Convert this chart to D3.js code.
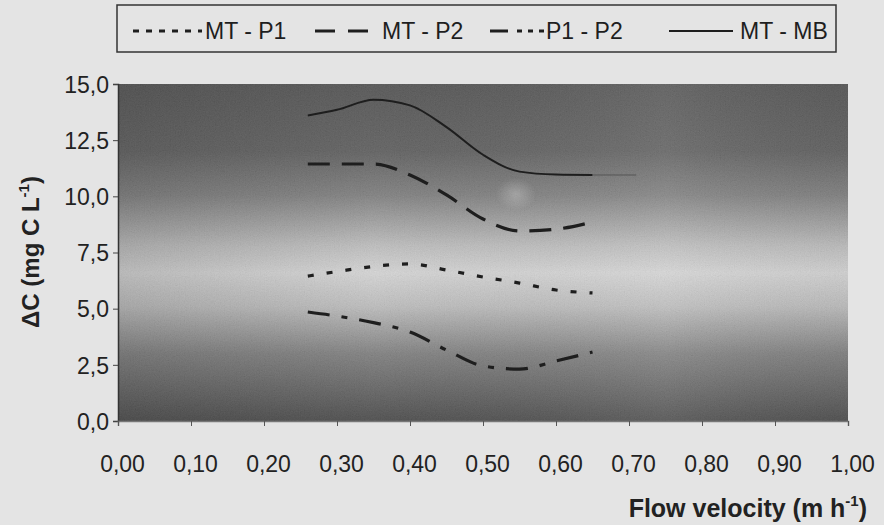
<!DOCTYPE html>
<html>
<head>
<meta charset="utf-8">
<script src="https://cdn.jsdelivr.net/npm/d3@7"></script>
<style>
  body { margin: 0; background: #e4e4e4; }
  svg { display: block; }
  svg text { font-family: "Liberation Sans", Arial, sans-serif; }
</style>
</head>
<body>
<div id="chart"></div>
<script>
// flow velocity (m/h) at which the curves were read
const velocity = [0.26, 0.30, 0.35, 0.40, 0.45, 0.50, 0.55, 0.60, 0.65];
const mtP1 = [6.45, 6.65, 6.88, 6.99, 6.72, 6.41, 6.14, 5.83, 5.70];
const mtP2 = [11.44, 11.44, 11.44, 10.95, 10.06, 8.99, 8.46, 8.54, 8.86];
const p1P2 = [4.85, 4.67, 4.38, 3.96, 3.16, 2.45, 2.31, 2.67, 3.07];
const mtMB = [13.6, 13.85, 14.3, 14.05, 13.08, 11.85, 11.1, 10.97, 10.95];
const mtMBTailX = [0.71];
const mtMBTail = [10.95];

const xTicks = [0, 0.1, 0.2, 0.3, 0.4, 0.5, 0.6, 0.7, 0.8, 0.9, 1.0];
const yTicks = [0, 2.5, 5, 7.5, 10, 12.5, 15];
const seriesNames = ["MT - P1", "MT - P2", "P1 - P2", "MT - MB"];

const W = 884, H = 525;
const margin = {top: 84, right: 36, bottom: 104, left: 118};
const width = W - margin.left - margin.right;
const height = H - margin.top - margin.bottom;
const font = "Liberation Sans, Arial, sans-serif";

const svg = d3.select("#chart").append("svg")
    .attr("width", W)
    .attr("height", H);

const defs = svg.append("defs");
// scanned grey shading of the plot area
const vg = defs.append("linearGradient").attr("id", "vgrad")
    .attr("x1", 0).attr("y1", 0).attr("x2", 0).attr("y2", 1);
[[0, "#4c4c4c"], [0.2, "#585858"], [0.33, "#7a7a7a"], [0.48, "#bdbdbd"],
 [0.56, "#d6d6d6"], [0.66, "#bcbcbc"], [0.8, "#7a7a7a"], [1, "#424242"]]
  .forEach(function(s) { vg.append("stop").attr("offset", s[0]).attr("stop-color", s[1]); });
const hg = defs.append("linearGradient").attr("id", "hgrad")
    .attr("x1", 0).attr("y1", 0).attr("x2", 1).attr("y2", 0);
[[0, "rgba(0,0,0,0.14)"], [0.35, "rgba(0,0,0,0)"], [0.75, "rgba(255,255,255,0.07)"], [1, "rgba(0,0,0,0.03)"]]
  .forEach(function(s) { hg.append("stop").attr("offset", s[0]).attr("stop-color", s[1]); });
const rg = defs.append("radialGradient").attr("id", "spot");
rg.append("stop").attr("offset", 0).attr("stop-color", "rgba(255,255,255,0.25)");
rg.append("stop").attr("offset", 1).attr("stop-color", "rgba(255,255,255,0)");
// grain of the scan
const grain = defs.append("filter").attr("id", "grain")
    .attr("x", 0).attr("y", 0).attr("width", 1).attr("height", 1);
grain.append("feTurbulence").attr("type", "fractalNoise")
    .attr("baseFrequency", 0.8).attr("numOctaves", 2).attr("seed", 3);
grain.append("feColorMatrix").attr("type", "matrix")
    .attr("values", "0.33 0.33 0.33 0 0  0.33 0.33 0.33 0 0  0.33 0.33 0.33 0 0  0 0 0 0 0.16");

const x = d3.scaleLinear().domain([0, 1]).range([0, width]);
const y = d3.scaleLinear().domain([0, 15]).range([height, 0]);

const g = svg.append("g")
    .attr("transform", "translate(" + margin.left + "," + margin.top + ")");

g.append("rect").attr("width", width).attr("height", height).attr("fill", "url(#vgrad)");
g.append("rect").attr("width", width).attr("height", height).attr("fill", "url(#hgrad)");
g.append("rect").attr("width", width).attr("height", height).attr("filter", "url(#grain)");
g.append("ellipse")
    .attr("cx", x(0.545)).attr("cy", y(10.1))
    .attr("rx", 20).attr("ry", 16)
    .attr("fill", "url(#spot)");

// axes
const yAxis = g.append("g")
    .call(d3.axisLeft(y).tickValues(yTicks).tickSize(5).tickPadding(4)
      .tickFormat(function(d) { return d3.format(".1f")(d).replace(".", ","); }));
yAxis.attr("font-family", font).attr("font-size", 23);
yAxis.select(".domain").attr("stroke", "#333").attr("stroke-width", 1.5);
yAxis.selectAll("line").attr("stroke", "#444");
yAxis.selectAll("text").attr("fill", "#222").attr("dy", "0.36em");

const xAxis = g.append("g")
    .attr("transform", "translate(0," + height + ")")
    .call(d3.axisBottom(x).tickValues(xTicks).tickSize(5).tickPadding(30)
      .tickFormat(function(d) { return d3.format(".2f")(d).replace(".", ","); }));
xAxis.attr("font-family", font).attr("font-size", 23);
xAxis.select(".domain").attr("stroke", "#777").attr("stroke-width", 1.5);
xAxis.selectAll("line").attr("stroke", "#555");
xAxis.selectAll("text").attr("fill", "#222").attr("dx", 4);

// series
const line = d3.line()
    .x(function(d) { return x(d[0]); })
    .y(function(d) { return y(d[1]); })
    .curve(d3.curveMonotoneX);

function pairs(xs, ys) { return xs.map(function(v, i) { return [v, ys[i]]; }); }

const series = [
  {values: pairs(velocity, mtP1), dash: "6,13", w: 3.2},
  {values: pairs(velocity, mtP2), dash: "22,12", w: 3.2},
  {values: pairs(velocity, p1P2), dash: "22,12,6,12", w: 3.2},
  {values: pairs(velocity, mtMB), dash: null, w: 2}
];

series.forEach(function(s) {
  g.append("path")
    .attr("d", line(s.values))
    .attr("fill", "none")
    .attr("stroke", "#1e1e1e")
    .attr("stroke-width", s.w)
    .attr("stroke-dasharray", s.dash);
});
// thin continuation of MT - MB
g.append("path")
  .attr("d", line([[velocity[velocity.length - 1], mtMB[mtMB.length - 1]]].concat(pairs(mtMBTailX, mtMBTail))))
  .attr("fill", "none")
  .attr("stroke", "#555")
  .attr("stroke-width", 1);

// legend
const legend = svg.append("g").attr("font-family", font);
legend.append("rect")
  .attr("x", 117).attr("y", 5).attr("width", 719).attr("height", 47)
  .attr("fill", "none").attr("stroke", "#333").attr("stroke-width", 1.5);
const legendItems = [
  {x1: 133, x2: 202, tx: 205},
  {x1: 315, x2: 368, tx: 382},
  {x1: 490, x2: 544, tx: 546},
  {x1: 669, x2: 733, tx: 740}
];
legendItems.forEach(function(it, i) {
  legend.append("line")
    .attr("x1", it.x1).attr("x2", it.x2).attr("y1", 31).attr("y2", 31)
    .attr("stroke", "#1e1e1e")
    .attr("stroke-width", i === 3 ? 2 : 3)
    .attr("stroke-dasharray", i === 0 ? "6,7" : i === 1 ? "20,13" : i === 2 ? "18,9,5,6,5,6" : null);
  legend.append("text")
    .attr("x", it.tx).attr("y", 39)
    .attr("font-size", 23).attr("fill", "#1e1e1e")
    .text(seriesNames[i]);
});

// axis titles
const yt = svg.append("text")
  .attr("transform", "translate(39,252) rotate(-90)")
  .attr("text-anchor", "middle")
  .attr("font-size", 24).attr("font-weight", "bold").attr("fill", "#222");
yt.append("tspan").text("\u0394C (mg C L");
yt.append("tspan").attr("font-size", 15).attr("dy", -10).text("-1");
yt.append("tspan").attr("dy", 10).text(")");

const xt = svg.append("text")
  .attr("x", 867).attr("y", 517)
  .attr("text-anchor", "end")
  .attr("font-size", 25).attr("font-weight", "bold").attr("fill", "#222");
xt.append("tspan").text("Flow velocity (m h");
xt.append("tspan").attr("font-size", 15).attr("dy", -11).text("-1");
xt.append("tspan").attr("dy", 11).text(")");
</script>
</body>
</html>
